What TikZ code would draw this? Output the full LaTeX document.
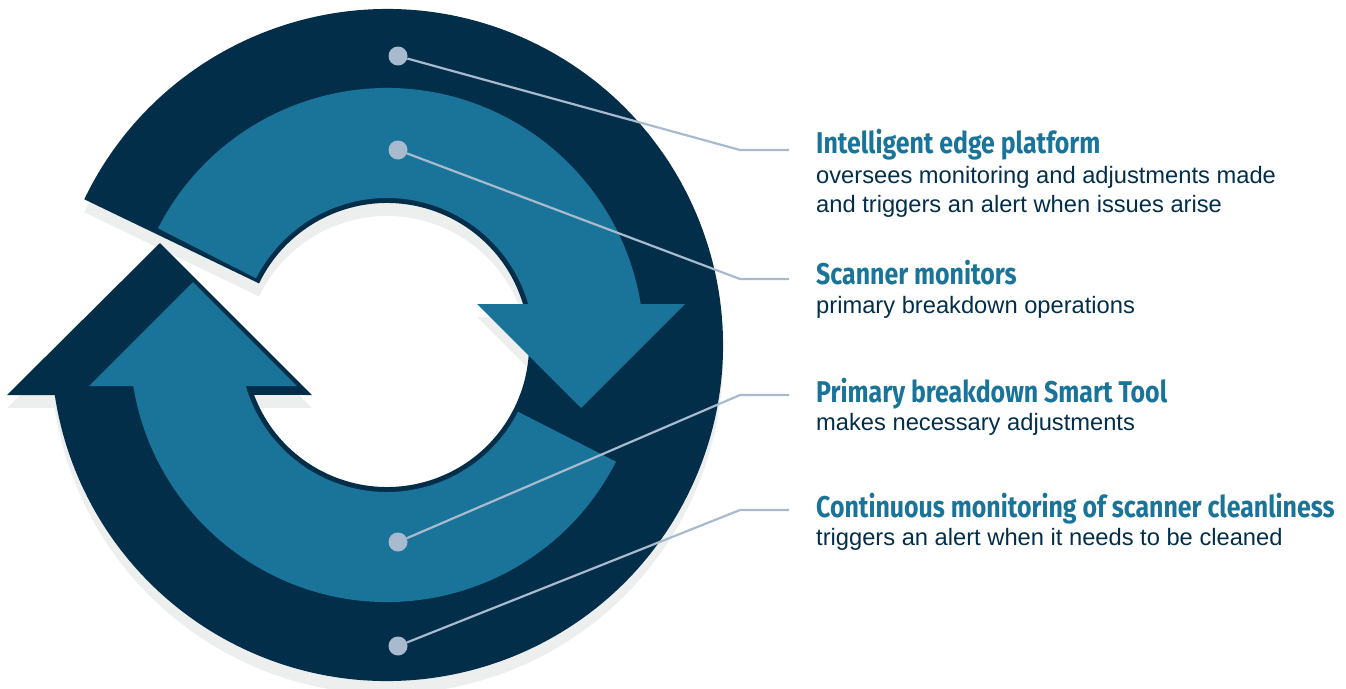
\documentclass[tikz,border=0pt]{standalone}
\usepackage{fontspec}
\setmainfont{Liberation Sans}
\newfontfamily\headfont{Fira Sans}[FakeStretch=0.83]
\usepackage{xcolor}
\usepackage{tikz}
\usetikzlibrary{calc}

\definecolor{navy}{HTML}{032E4A}
\definecolor{ringlight}{HTML}{1A7499}
\definecolor{pinblue}{HTML}{A8BACD}
\definecolor{dropgray}{HTML}{EDEFEF}

% outer ring, cut at upper left, head on the left pointing up
\newcommand{\outerring}{(154.3:336pt) arc[start angle=154.3, end angle=-171.4, radius=336pt]
  -- (-380,-50) -- (-227,102) -- (-75,-50) -- (-132.9,-49.95)
  arc[start angle=-159.4, end angle=154.3, radius=142pt] -- cycle}
% one half of the inner ring, head on the right pointing down
\newcommand{\innerhalf}{(153:257pt) arc[start angle=153, end angle=9.18, radius=257pt]
  -- (298,41) -- (194,-63) -- (90,41) -- (141.2,41)
  arc[start angle=16.2, end angle=153, radius=147pt] -- cycle}

\begin{document}
\begin{tikzpicture}[x=1pt, y=1pt,
  pin/.style={circle, fill=pinblue, inner sep=0pt, minimum size=19pt},
  leader/.style={draw=pinblue, line width=2.2pt},
  head/.style={anchor=base west, inner sep=0pt, text=ringlight, font=\headfont\bfseries\fontsize{30}{32}\selectfont},
  desc/.style={anchor=base west, inner sep=0pt, text=navy, font=\fontsize{23.7}{29}\selectfont}]
  \useasboundingbox (0,0) rectangle (1346,-688);

  \begin{scope}[shift={(387,-345)}]
    % drop shadow
    \begin{scope}[yshift=-13pt]
      \fill[dropgray] \outerring;
      \foreach \r in {0,180}
        \fill[dropgray, rotate=\r] \innerhalf;
    \end{scope}
    % dark ring
    \fill[navy] \outerring;
    % light ring, two arrows
    \foreach \r in {0,180}
      \fill[ringlight, rotate=\r] \innerhalf;
  \end{scope}

  % pins and leaders
  \foreach \n/\py/\ly in {1/56/150, 2/150/279, 3/542/395, 4/646/510} {
    \node[pin] (pin\n) at (398,-\py) {};
    \coordinate (bend\n) at (740,-\ly);
    \coordinate (end\n) at (789,-\ly);
    \draw[leader] (pin\n) -- (bend\n) -- (end\n);
  }

  % labels
  \node[head] (head1) at (816,-153) {Intelligent edge platform};
  \node[desc] (desc1) at (816,-183) {oversees monitoring and adjustments made};
  \node[desc] (desc1b) at (816,-212) {and triggers an alert when issues arise};
  \node[head] (head2) at (816,-284) {Scanner monitors};
  \node[desc] (desc2) at (816,-313) {primary breakdown operations};
  \node[head] (head3) at (816,-402) {Primary breakdown Smart Tool};
  \node[desc] (desc3) at (816,-430) {makes necessary adjustments};
  \node[head] (head4) at (816,-517) {Continuous monitoring of scanner cleanliness};
  \node[desc] (desc4) at (816,-545) {triggers an alert when it needs to be cleaned};
\end{tikzpicture}
\end{document}
